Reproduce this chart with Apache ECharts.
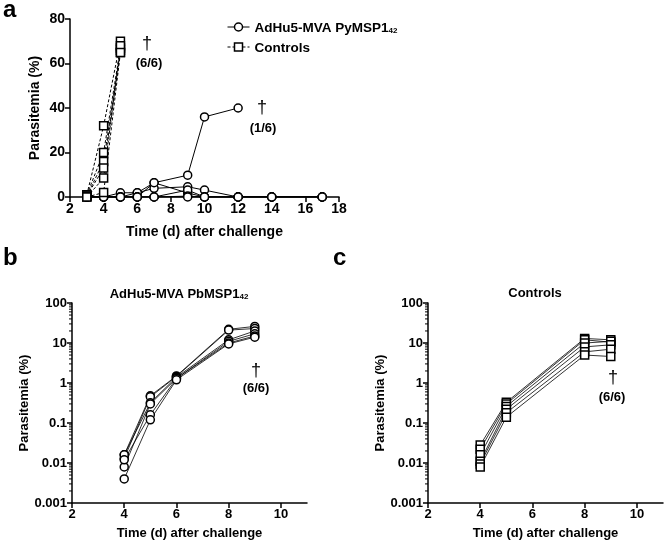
<!DOCTYPE html>
<html><head><meta charset="utf-8">
<script src="https://cdn.jsdelivr.net/npm/echarts@6/dist/echarts.min.js"></script>
<style>html,body{margin:0;padding:0;background:#fff}#c{width:669px;height:546px}</style>
</head><body><div id="c"></div>
<script>
// ---------- Data ----------
// Panel a (linear)
const daysA = [3, 4, 5, 6, 7, 9, 10, 12, 14, 17];
const vaccA1 = [0, 0, 0, 1.9, 6.4, 9.8, 36, 40, null, null];
const vaccA2 = [0, 0, 1.9, 1.9, 3.9, 4.6, 3.1, 0, 0, 0];
const vaccA3 = [0, 0, 0, 0, 6.4, 1.8, 0, 0, 0, 0];
const vaccA4 = [0, 0, 0, 0, 0, 3.1, 0, 0, 0, 0];
const vaccA5 = [0, 0, 0, 0, 0, 0.4, 0, 0, 0, 0];
const vaccA6 = [0, 0, 0, 0, 0, 0, 0, 0, 0, 0];
const daysCtrlA = [3, 4, 5];
const ctrlA1 = [1, 32, 70];
const ctrlA2 = [1, 20, 67];
const ctrlA3 = [0.5, 16, 66];
const ctrlA4 = [0.5, 13, 65];
const ctrlA5 = [0, 8.5, 68];
const ctrlA6 = [0, 2, 65];
const xTicksA = [2, 18, 2];   // min, max, interval
const yTicksA = [0, 80, 20];
// Panel b (log)
const daysB = [4, 5, 6, 8, 9];
const vaccB1 = [0.016, 0.48, 1.5, 22, 26];
const vaccB2 = [0.013, 0.45, 1.45, 21, 23];
const vaccB3 = [0.016, 0.32, 1.4, 12, 20];
const vaccB4 = [0.008, 0.30, 1.3, 11, 17];
const vaccB5 = [0.012, 0.16, 1.3, 10, 15];
const vaccB6 = [0.004, 0.12, 1.2, 9.5, 14];
// Panel c (log)
const daysC = [4, 5, 8, 9];
const ctrlC1 = [0.028, 0.33, 13, 12];
const ctrlC2 = [0.022, 0.30, 12, 10.5];
const ctrlC3 = [0.016, 0.26, 10, 11];
const ctrlC4 = [0.011, 0.22, 8, 9];
const ctrlC5 = [0.0095, 0.18, 6, 7];
const ctrlC6 = [0.008, 0.14, 5, 4.6];
const xTicksBC = [2, 11, 2];
const xLabelsBC = [2, 4, 6, 8, 10];
const logRange = [0.001, 100];
const minorLog = [];
for (let e = -3; e < 2; e++) for (let m = 2; m <= 9; m++) minorLog.push(m * Math.pow(10, e));

const nameVacc = 'AdHu5-MVA PyMSP1₄₂';
const nameCtrl = 'Controls';

// ---------- Chart ----------
const FONT = '"Liberation Sans", Arial, sans-serif';
const chart = echarts.init(document.getElementById('c'), null, {renderer: 'canvas'});
const pairs = (xs, ys) => xs.map((x, i) => [x, ys[i]]);

function lineSeries(name, xi, xs, ys, symbol, dashed, size, lw) {
  return {
    type: 'line', name: name, xAxisIndex: xi, yAxisIndex: xi,
    data: pairs(xs, ys), connectNulls: false,
    symbol: symbol, symbolSize: size, showSymbol: true,
    lineStyle: {color: '#000', width: lw, type: dashed ? [3, 2] : 'solid'},
    itemStyle: {color: '#fff', borderColor: '#000', borderWidth: 1.5},
    emphasis: {disabled: true}, animation: false
  };
}
function minorTickSeries(xi) {
  return {
    type: 'custom', xAxisIndex: xi, yAxisIndex: xi, silent: true, clip: false,
    data: minorLog.map(v => [xTicksBC[0], v]),
    renderItem: function (params, api) {
      const p = api.coord([api.value(0), api.value(1)]);
      return {type: 'line', shape: {x1: p[0] - 3, y1: p[1], x2: p[0], y2: p[1]},
        style: {stroke: '#000', lineWidth: 1}};
    }, animation: false
  };
}

const axisCommon = (fs) => ({
  axisLine: {show: true, onZero: false, lineStyle: {color: '#000', width: 1.5}},
  axisTick: {show: true, inside: false, length: 5, lineStyle: {color: '#000', width: 1.5}},
  axisLabel: {color: '#000', fontFamily: FONT, fontWeight: 'bold', fontSize: fs, margin: 5},
  splitLine: {show: false},
  nameTextStyle: {color: '#000', fontFamily: FONT, fontWeight: 'bold', fontSize: fs}
});

const logFmt = v => String(Number(Number(v).toPrecision(1)));

const series = [];
[vaccA1, vaccA2, vaccA3, vaccA4, vaccA5, vaccA6].forEach(d => series.push(lineSeries(nameVacc, 0, daysA, d, 'circle', false, 8, 1)));
[ctrlA1, ctrlA2, ctrlA3, ctrlA4, ctrlA5, ctrlA6].forEach(d => series.push(lineSeries(nameCtrl, 0, daysCtrlA, d, 'rect', true, 8, 1)));
[vaccB1, vaccB2, vaccB3, vaccB4, vaccB5, vaccB6].forEach(d => series.push(lineSeries('b', 1, daysB, d, 'circle', false, 8, 0.8)));
[ctrlC1, ctrlC2, ctrlC3, ctrlC4, ctrlC5, ctrlC6].forEach(d => series.push(lineSeries('c', 2, daysC, d, 'rect', false, 8, 0.8)));
series.push(minorTickSeries(1));
series.push(minorTickSeries(2));

function txt(x, y, text, size, weight, align, rich) {
  return {type: 'text', x: x, y: y, silent: true, style: {
    text: text, fill: '#000', fontFamily: FONT, fontSize: size, fontWeight: weight || 'bold',
    align: align || 'center', verticalAlign: 'middle', rich: rich}};
}
const subRich = (fs) => ({n: {fontFamily: FONT, fontWeight: 'bold', fontSize: fs, lineHeight: 16, verticalAlign: 'bottom'},
  s: {fontFamily: FONT, fontWeight: 'bold', fontSize: 8, lineHeight: 12, verticalAlign: 'bottom'}});

function xAxisBC(gi) {
  const c = axisCommon(13);
  return Object.assign(c, {gridIndex: gi, type: 'value', min: xTicksBC[0], max: xTicksBC[1], interval: xTicksBC[2],
    name: 'Time (d) after challenge', nameLocation: 'middle', nameGap: 24,
    axisLabel: Object.assign(c.axisLabel, {customValues: xLabelsBC}),
    axisTick: Object.assign(c.axisTick, {customValues: xLabelsBC})});
}
function yAxisBC(gi) {
  const c = axisCommon(13);
  return Object.assign(c, {gridIndex: gi, type: 'log', logBase: 10, min: logRange[0], max: logRange[1],
    name: 'Parasitemia (%)', nameLocation: 'middle', nameGap: 34,
    axisLabel: Object.assign(c.axisLabel, {formatter: logFmt})});
}

const option = {
  backgroundColor: '#fff',
  animation: false,
  grid: [
    {left: 70, top: 19, width: 269, height: 178, containLabel: false},
    {left: 72, top: 303, width: 235, height: 200, containLabel: false},
    {left: 428, top: 303, width: 235, height: 200, containLabel: false}
  ],
  xAxis: [
    Object.assign(axisCommon(14), {gridIndex: 0, type: 'value', min: xTicksA[0], max: xTicksA[1], interval: xTicksA[2],
      name: 'Time (d) after challenge', nameLocation: 'middle', nameGap: 28}),
    xAxisBC(1), xAxisBC(2)
  ],
  yAxis: [
    Object.assign(axisCommon(14), {gridIndex: 0, type: 'value', min: yTicksA[0], max: yTicksA[1], interval: yTicksA[2],
      name: 'Parasitemia (%)', nameLocation: 'middle', nameGap: 28}),
    yAxisBC(1), yAxisBC(2)
  ],
  legend: {
    data: [nameVacc, nameCtrl], left: 222, top: 16, orient: 'vertical',
    itemWidth: 22, itemHeight: 10, itemGap: 6, selectedMode: false,
    itemStyle: {borderWidth: 1.5},
    lineStyle: {width: 1},
    textStyle: {color: '#000', fontFamily: FONT, fontWeight: 'bold', fontSize: 13.5, rich: subRich(13.5)},
    formatter: n => n === nameVacc ? '{n|AdHu5-MVA PyMSP1}{s|42}' : '{n|Controls}'
  },
  graphic: [
    txt(3, 10, 'a', 24, 'bold', 'left'),
    txt(3, 258, 'b', 24, 'bold', 'left'),
    txt(333, 258, 'c', 24, 'bold', 'left'),
    txt(179, 293, '{n|AdHu5-MVA PbMSP1}{s|42}', 13, 'bold', 'center', subRich(13)),
    txt(535, 293, 'Controls', 13, 'bold', 'center'),
    txt(147, 44, '†', 18, 'normal'),
    txt(149, 63, '(6/6)', 13, 'bold'),
    txt(262, 108, '†', 18, 'normal'),
    txt(263, 128, '(1/6)', 13, 'bold'),
    txt(256, 371, '†', 18, 'normal'),
    txt(256, 388, '(6/6)', 13, 'bold'),
    txt(613, 378, '†', 18, 'normal'),
    txt(612, 397, '(6/6)', 13, 'bold')
  ],
  series: series
};
chart.setOption(option);
</script></body></html>
